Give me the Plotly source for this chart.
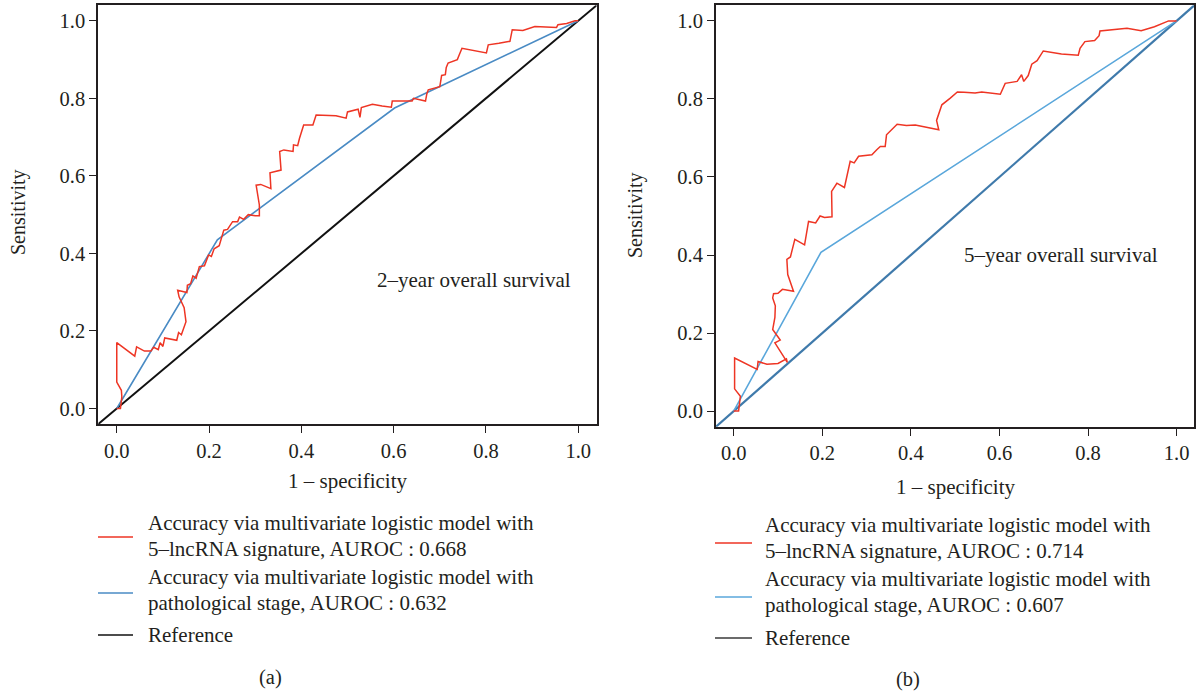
import plotly.graph_objects as go

# ---------------- data ----------------
# Panel (a): 2-year overall survival
a_red_fpr = [0.0, 0.008, 0.011, 0.010, 0.0, 0.0, 0.039, 0.043, 0.060, 0.074, 0.080, 0.090, 0.094, 0.100,
             0.104, 0.115, 0.130, 0.134, 0.140, 0.150, 0.146, 0.135, 0.132, 0.152, 0.153, 0.160, 0.165,
             0.172, 0.179, 0.190, 0.199, 0.205, 0.211, 0.222, 0.232, 0.240, 0.251, 0.262, 0.266, 0.275,
             0.285, 0.300, 0.309, 0.309, 0.302, 0.312, 0.334, 0.332, 0.345, 0.356, 0.353, 0.362, 0.382,
             0.383, 0.392, 0.396, 0.405, 0.425, 0.432, 0.455, 0.475, 0.497, 0.500, 0.523, 0.527, 0.530,
             0.554, 0.575, 0.595, 0.597, 0.640, 0.643, 0.669, 0.672, 0.675, 0.700, 0.704, 0.712, 0.714,
             0.718, 0.738, 0.742, 0.748, 0.801, 0.805, 0.828, 0.852, 0.857, 0.880, 0.906, 0.953, 0.956,
             0.975, 0.993, 1.0]
a_red_tpr = [0.0, 0.0, 0.030, 0.047, 0.068, 0.170, 0.135, 0.159, 0.148, 0.148, 0.158, 0.152, 0.170, 0.160,
             0.182, 0.180, 0.176, 0.196, 0.190, 0.224, 0.260, 0.288, 0.305, 0.299, 0.318, 0.322, 0.342,
             0.336, 0.366, 0.368, 0.396, 0.392, 0.412, 0.420, 0.460, 0.462, 0.482, 0.482, 0.494, 0.488,
             0.500, 0.497, 0.497, 0.525, 0.576, 0.578, 0.567, 0.608, 0.612, 0.615, 0.663, 0.667, 0.663,
             0.680, 0.678, 0.697, 0.731, 0.731, 0.757, 0.755, 0.755, 0.749, 0.765, 0.772, 0.751, 0.776,
             0.785, 0.780, 0.777, 0.793, 0.793, 0.800, 0.793, 0.812, 0.822, 0.830, 0.859, 0.861, 0.880,
             0.891, 0.900, 0.912, 0.929, 0.917, 0.938, 0.942, 0.947, 0.977, 0.975, 0.985, 0.983, 0.990,
             0.993, 1.0, 1.0]
a_blue_fpr = [0.0, 0.218, 0.602, 1.0]
a_blue_tpr = [0.0, 0.435, 0.775, 1.0]

# Panel (b): 5-year overall survival
b_red_fpr = [0.0, 0.011, 0.015, 0.002, 0.002, 0.053, 0.055, 0.075, 0.100, 0.119, 0.121, 0.093, 0.105,
             0.088, 0.093, 0.094, 0.088, 0.090, 0.100, 0.110, 0.135, 0.122, 0.120, 0.128, 0.138, 0.150,
             0.160, 0.169, 0.185, 0.195, 0.205, 0.222, 0.221, 0.233, 0.250, 0.263, 0.272, 0.282, 0.300,
             0.312, 0.323, 0.331, 0.342, 0.345, 0.369, 0.390, 0.410, 0.430, 0.463, 0.458, 0.466, 0.470,
             0.489, 0.505, 0.520, 0.545, 0.560, 0.602, 0.613, 0.640, 0.650, 0.655, 0.665, 0.673, 0.685,
             0.699, 0.740, 0.778, 0.782, 0.793, 0.815, 0.825, 0.827, 0.888, 0.920, 0.950, 0.982, 1.0]
b_red_tpr = [0.0, 0.0, 0.038, 0.057, 0.136, 0.107, 0.127, 0.120, 0.122, 0.134, 0.125, 0.175, 0.182,
             0.209, 0.240, 0.270, 0.290, 0.301, 0.302, 0.312, 0.307, 0.350, 0.389, 0.395, 0.440, 0.433,
             0.426, 0.486, 0.482, 0.500, 0.496, 0.498, 0.563, 0.584, 0.573, 0.640, 0.636, 0.653, 0.655,
             0.657, 0.670, 0.678, 0.678, 0.708, 0.735, 0.732, 0.733, 0.728, 0.721, 0.745, 0.772, 0.785,
             0.802, 0.818, 0.817, 0.815, 0.818, 0.812, 0.840, 0.845, 0.862, 0.845, 0.860, 0.889, 0.898,
             0.923, 0.915, 0.912, 0.930, 0.947, 0.950, 0.962, 0.974, 0.981, 0.975, 0.985, 1.0, 1.0]
b_blue_fpr = [0.0, 0.197, 1.0]
b_blue_tpr = [0.0, 0.407, 1.0]

ref_line = [-0.04, 1.04]

tick_vals = [0.0, 0.2, 0.4, 0.6, 0.8, 1.0]
tick_text = ["0.0", "0.2", "0.4", "0.6", "0.8", "1.0"]

legend_a = [["Accuracy via multivariate logistic model with", "5\u2013lncRNA signature, AUROC : 0.668"],
            ["Accuracy via multivariate logistic model with", "pathological stage, AUROC : 0.632"],
            ["Reference"]]
legend_b = [["Accuracy via multivariate logistic model with", "5\u2013lncRNA signature, AUROC : 0.714"],
            ["Accuracy via multivariate logistic model with", "pathological stage, AUROC : 0.607"],
            ["Reference"]]

# ---------------- style ----------------
W, H = 1201, 693
FONT = "Liberation Serif, DejaVu Serif, serif"
TXT = "#231f20"
RED = "#ee3524"
BLUE_A = "#4a8bc4"
BLUE_B = "#5aa7db"
REF_A = "#111111"
REF_B = "#3f7aab"
REF_B_LEG = "#3a3a3a"
FS = 21


def fx(p):
    return p / W


def fy(p):
    return 1 - p / H


fig = go.Figure()

fig.add_trace(go.Scatter(x=ref_line, y=ref_line, mode="lines", line=dict(color=REF_A, width=2),
                         xaxis="x", yaxis="y", showlegend=False, hoverinfo="skip"))
fig.add_trace(go.Scatter(x=a_blue_fpr, y=a_blue_tpr, mode="lines", line=dict(color=BLUE_A, width=1.6),
                         xaxis="x", yaxis="y", showlegend=False))
fig.add_trace(go.Scatter(x=a_red_fpr, y=a_red_tpr, mode="lines", line=dict(color=RED, width=1.5),
                         xaxis="x", yaxis="y", showlegend=False))

fig.add_trace(go.Scatter(x=ref_line, y=ref_line, mode="lines", line=dict(color=REF_B, width=2.2),
                         xaxis="x2", yaxis="y2", showlegend=False, hoverinfo="skip"))
fig.add_trace(go.Scatter(x=b_blue_fpr, y=b_blue_tpr, mode="lines", line=dict(color=BLUE_B, width=1.6),
                         xaxis="x2", yaxis="y2", showlegend=False))
fig.add_trace(go.Scatter(x=b_red_fpr, y=b_red_tpr, mode="lines", line=dict(color=RED, width=1.5),
                         xaxis="x2", yaxis="y2", showlegend=False))

axis_common = dict(range=[-0.04, 1.04], showgrid=False, zeroline=False, showline=True, mirror=True,
                   linecolor="#231f20", linewidth=2, ticks="outside", ticklen=7, tickwidth=1.3,
                   tickcolor="#231f20", tickvals=tick_vals, ticktext=tick_text,
                   tickfont=dict(family=FONT, size=20.5, color=TXT))

fig.update_layout(
    width=W, height=H, margin=dict(l=0, r=0, t=0, b=0),
    paper_bgcolor="white", plot_bgcolor="white", showlegend=False,
    xaxis=dict(domain=[fx(98.3), fx(596.7)], anchor="y", **axis_common),
    yaxis=dict(domain=[fy(424), fy(5.3)], anchor="x", **axis_common),
    xaxis2=dict(domain=[fx(716), fx(1194.3)], anchor="y2", **axis_common),
    yaxis2=dict(domain=[fy(426.7), fy(5.3)], anchor="x2", **axis_common),
)

annotations = []
shapes = []


def text(x, y, s, size=FS, xanchor="center", angle=0):
    annotations.append(dict(x=fx(x), y=fy(y), xref="paper", yref="paper", text=s, showarrow=False,
                            xanchor=xanchor, yanchor="middle", textangle=angle,
                            font=dict(family=FONT, size=size, color=TXT)))


# axis titles and panel text
text(347, 481, "1 \u2013 specificity")
text(955, 487, "1 \u2013 specificity")
text(18, 212, "Sensitivity", 20, angle=-90)
text(636, 215, "Sensitivity", 20, angle=-90)
text(474, 280, "2\u2013year overall survival", 21)
text(1061, 255, "5\u2013year overall survival", 21)
text(270, 677, "(a)", 20.5)
text(908, 679, "(b)", 20.5)


def legend(entries, colors, x0, x1, tx, sample_y, line_ys):
    for ent, col, sy, lys in zip(entries, colors, sample_y, line_ys):
        shapes.append(dict(type="line", xref="paper", yref="paper", x0=fx(x0), x1=fx(x1),
                           y0=fy(sy), y1=fy(sy), line=dict(color=col, width=1.6)))
        for s, ly in zip(ent, lys):
            text(tx, ly, s, FS, xanchor="left")


legend(legend_a, [RED, BLUE_A, REF_A], 98, 133, 146, [537, 593, 635], [[523, 549], [577, 603], [635]])
legend(legend_b, [RED, BLUE_B, REF_B_LEG], 715, 752, 763, [543, 597, 638], [[525, 551], [579, 605], [638]])

fig.update_layout(annotations=annotations, shapes=shapes)
fig.write_html("out.html")
